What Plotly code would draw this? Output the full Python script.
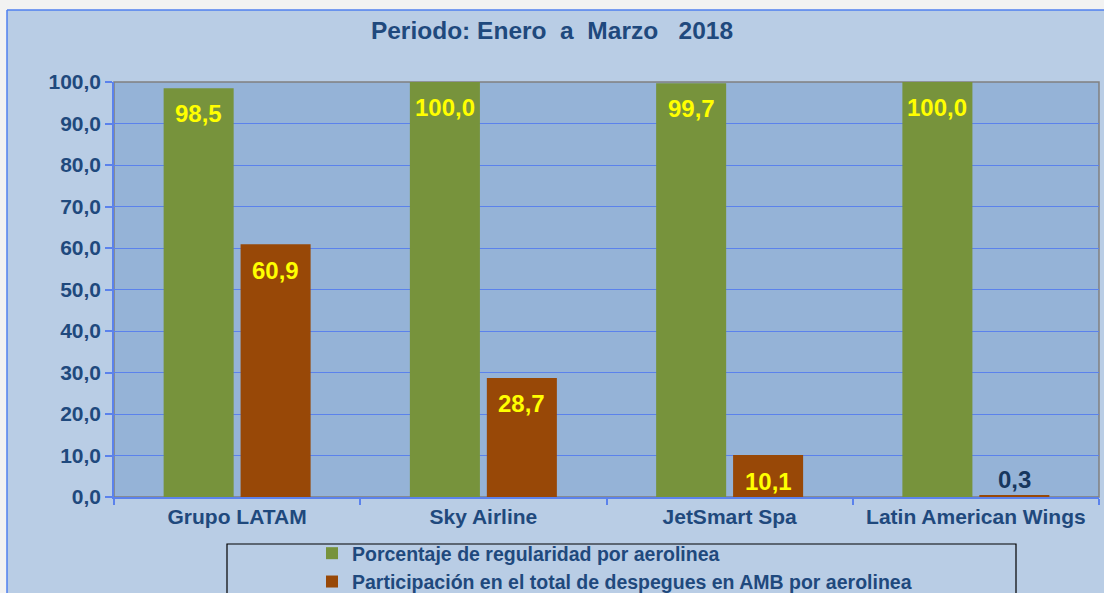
import plotly.graph_objects as go

categories = ["Grupo LATAM", "Sky Airline", "JetSmart Spa", "Latin American Wings"]
regularidad = [98.5, 100.0, 99.7, 100.0]
participacion = [60.9, 28.7, 10.1, 0.3]
series_names = [
    "Porcentaje de regularidad por aerolinea",
    "Participación en el total de despegues en AMB por aerolinea",
]
y_ticks = [0, 10, 20, 30, 40, 50, 60, 70, 80, 90, 100]

W, H = 1104, 593
L, R, T, B = 114, 1099, 82, 497

FONT = "Liberation Sans, Arial, sans-serif"
DARK = "#1f497d"
GREEN = "#77933c"
BROWN = "#984807"
GRID = "#5b82ec"


def px(x):
    return (x - L) / (R - L)


def py(y):
    return (B - y) / (B - T)


def fmt(v):
    return f"{v:.1f}".replace(".", ",")


fig = go.Figure()
fig.add_trace(go.Bar(x=categories, y=regularidad, name="<b>" + series_names[0] + "</b>",
                     marker=dict(color=GREEN, line=dict(width=0))))
fig.add_trace(go.Bar(x=categories, y=participacion, name="<b>" + series_names[1] + "</b>",
                     marker=dict(color=BROWN, line=dict(width=0))))

annotations = []
for cat, v in zip(categories, regularidad):
    annotations.append(dict(x=cat, y=v, xref="x", yref="y", text=f"<b>{fmt(v)}</b>",
                            showarrow=False, xshift=-38.5, yshift=-25,
                            font=dict(family=FONT, size=24, color="#ffff00")))
for cat, v in zip(categories, participacion):
    if v > 5:
        annotations.append(dict(x=cat, y=v, xref="x", yref="y", text=f"<b>{fmt(v)}</b>",
                                showarrow=False, xshift=38.5, yshift=-26,
                                font=dict(family=FONT, size=24, color="#ffff00")))
    else:
        annotations.append(dict(x=cat, y=v, xref="x", yref="y", text=f"<b>{fmt(v)}</b>",
                                showarrow=False, xshift=38.5, yshift=16,
                                font=dict(family=FONT, size=24, color="#17375e")))

shapes = [
    # gray plot border (top/right)
    dict(type="rect", xref="paper", yref="paper", x0=0, x1=1, y0=0, y1=1,
         line=dict(color="#808080", width=1.5), fillcolor="rgba(0,0,0,0)", layer="below"),
    # page gray strips outside chart border
    dict(type="rect", xref="paper", yref="paper", x0=px(-5), x1=px(W + 5), y0=py(-5), y1=py(10),
         line=dict(width=0), fillcolor="#f2f2f2", layer="above"),
    dict(type="rect", xref="paper", yref="paper", x0=px(-5), x1=px(7), y0=py(-5), y1=py(H + 5),
         line=dict(width=0), fillcolor="#f2f2f2", layer="above"),
    # chart border lines
    dict(type="line", xref="paper", yref="paper", x0=px(7), x1=px(W + 5), y0=py(10), y1=py(10),
         line=dict(color="#4f7fef", width=1.5), layer="above"),
    dict(type="line", xref="paper", yref="paper", x0=px(7), x1=px(7), y0=py(10), y1=py(H + 5),
         line=dict(color="#4f7fef", width=1.5), layer="above"),
    # legend box
    dict(type="rect", xref="paper", yref="paper", x0=px(227), x1=px(1016), y0=py(544), y1=py(H + 10),
         line=dict(color="#000000", width=1.2), fillcolor="rgba(0,0,0,0)", layer="above"),
]

fig.update_layout(
    width=W, height=H,
    margin=dict(l=L, r=W - R, t=T, b=H - B, autoexpand=False),
    paper_bgcolor="#b9cde5",
    plot_bgcolor="#95b3d7",
    barmode="group",
    bargap=0.375,
    bargroupgap=0.09,
    separators=",.",
    title=dict(text="<b>Periodo: Enero\u00a0 a\u00a0 Marzo\u00a0\u00a0 2018</b>",
               x=0.5, xref="container", xanchor="center",
               y=1 - 30 / H, yref="container", yanchor="middle",
               font=dict(family=FONT, size=24.5, color=DARK)),
    font=dict(family=FONT, color=DARK),
    showlegend=True,
    legend=dict(
        xref="container", yref="container",
        x=312 / W, y=1 - 534 / H, xanchor="left", yanchor="top",
        bgcolor="rgba(0,0,0,0)", borderwidth=0,
        font=dict(family=FONT, size=19.5, color=DARK),
        itemwidth=30, tracegroupgap=0,
    ),
    xaxis=dict(
        type="category",
        showline=True, linecolor=GRID, linewidth=1.5,
        ticks="outside", tickson="boundaries", ticklen=6, tickcolor=GRID, tickwidth=1.5,
        tickfont=dict(family=FONT, size=21, color=DARK),
        showgrid=False,
        tickprefix="<b>", ticksuffix="</b>",
    ),
    yaxis=dict(
        range=[0, 100],
        tickmode="array", tickvals=y_ticks,
        ticktext=[f"<b>{fmt(v)}</b>" for v in y_ticks],
        showline=True, linecolor=GRID, linewidth=1.5,
        ticks="outside", ticklen=7, tickcolor=GRID, tickwidth=1.5,
        showgrid=True, gridcolor=GRID, gridwidth=1.2,
        zeroline=False,
        tickfont=dict(family=FONT, size=21, color=DARK),
    ),
    annotations=annotations,
    shapes=shapes,
)

fig.write_html("out.html", config={"displayModeBar": False},
               post_script="document.body.style.margin='0';document.body.style.overflow='hidden';")
